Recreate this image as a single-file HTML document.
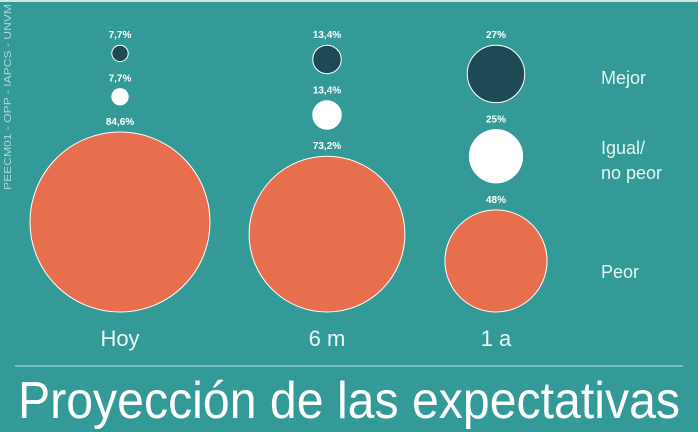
<!DOCTYPE html>
<html><head><meta charset="utf-8"><style>
html,body{margin:0;padding:0;background:#349a98;}
svg{display:block;font-family:"Liberation Sans",sans-serif;}
</style></head><body>
<svg id="chart" width="698" height="432" viewBox="0 0 698 432" xmlns="http://www.w3.org/2000/svg">
<rect x="0" y="0" width="698" height="432" fill="#349a98"/>
<rect x="0" y="0" width="698" height="2" fill="#cfe6e4"/>
<text transform="translate(11,190) rotate(-90)" font-size="10.5" fill="#a9d6d3" textLength="186" lengthAdjust="spacingAndGlyphs">PEECM01 - OPP - IAPCS - UNVM</text>
<g id="bubbles"></g>
<g id="cats"></g>
<text x="601" y="84" font-size="18" fill="#e3f6f4">Mejor</text>
<text x="601" y="154" font-size="18" fill="#e3f6f4">Igual/</text>
<text x="601" y="179" font-size="18" fill="#e3f6f4">no peor</text>
<text x="601" y="278" font-size="18" fill="#e3f6f4">Peor</text>
<line x1="15" y1="366" x2="683" y2="366" stroke="#b9dedb" stroke-width="1"/>
<text x="18" y="418" font-size="52" fill="#ffffff" textLength="662" lengthAdjust="spacingAndGlyphs">Proyección de las expectativas</text>
</svg>
<script>
const categories = ["Hoy", "6 m", "1 a"];
const mejor = [7.7, 13.4, 27];
const igual = [7.7, 13.4, 25];
const peor = [84.6, 73.2, 48];
const mejorLabels = ["7,7%", "13,4%", "27%"];
const igualLabels = ["7,7%", "13,4%", "25%"];
const peorLabels = ["84,6%", "73,2%", "48%"];

const NS = "http://www.w3.org/2000/svg";
const xCenters = [120, 327, 496];
const rScale = v => v * 1.064;
const baseY = 312, gap = 27;
const g = document.getElementById("bubbles");
const cg = document.getElementById("cats");
function mk(tag, attrs){const e=document.createElementNS(NS,tag);for(const k in attrs)e.setAttribute(k,attrs[k]);return e;}

categories.forEach((cat, i) => {
  const cx = xCenters[i];
  const series = [
    {v: peor[i], lab: peorLabels[i], fill: "#e76f4d", stroke: "#ffffff", name: "peor"},
    {v: igual[i], lab: igualLabels[i], fill: "#ffffff", stroke: "#ffffff", name: "igual"},
    {v: mejor[i], lab: mejorLabels[i], fill: "#1d4a55", stroke: "#ffffff", name: "mejor"}
  ];
  let bottom = baseY;
  series.forEach(s => {
    const r = rScale(s.v);
    const cy = bottom - r;
    const c = mk("circle", {cx: cx, cy: cy, r: r, fill: s.fill, stroke: s.stroke, "stroke-width": 1});
    
    
    g.appendChild(c);
    const t = mk("text", {x: cx, y: cy - r - 7, "text-anchor": "middle", "font-size": 10, "font-weight": "bold", fill: "#ffffff"});
    t.textContent = s.lab;
    
    
    g.appendChild(t);
    bottom = cy - r - gap;
  });
  const ct = mk("text", {x: cx, y: 346, "text-anchor": "middle", "font-size": 22, fill: "#eaf7f6"});
  ct.textContent = cat;
  
  
  cg.appendChild(ct);
});
</script>
</body></html>
